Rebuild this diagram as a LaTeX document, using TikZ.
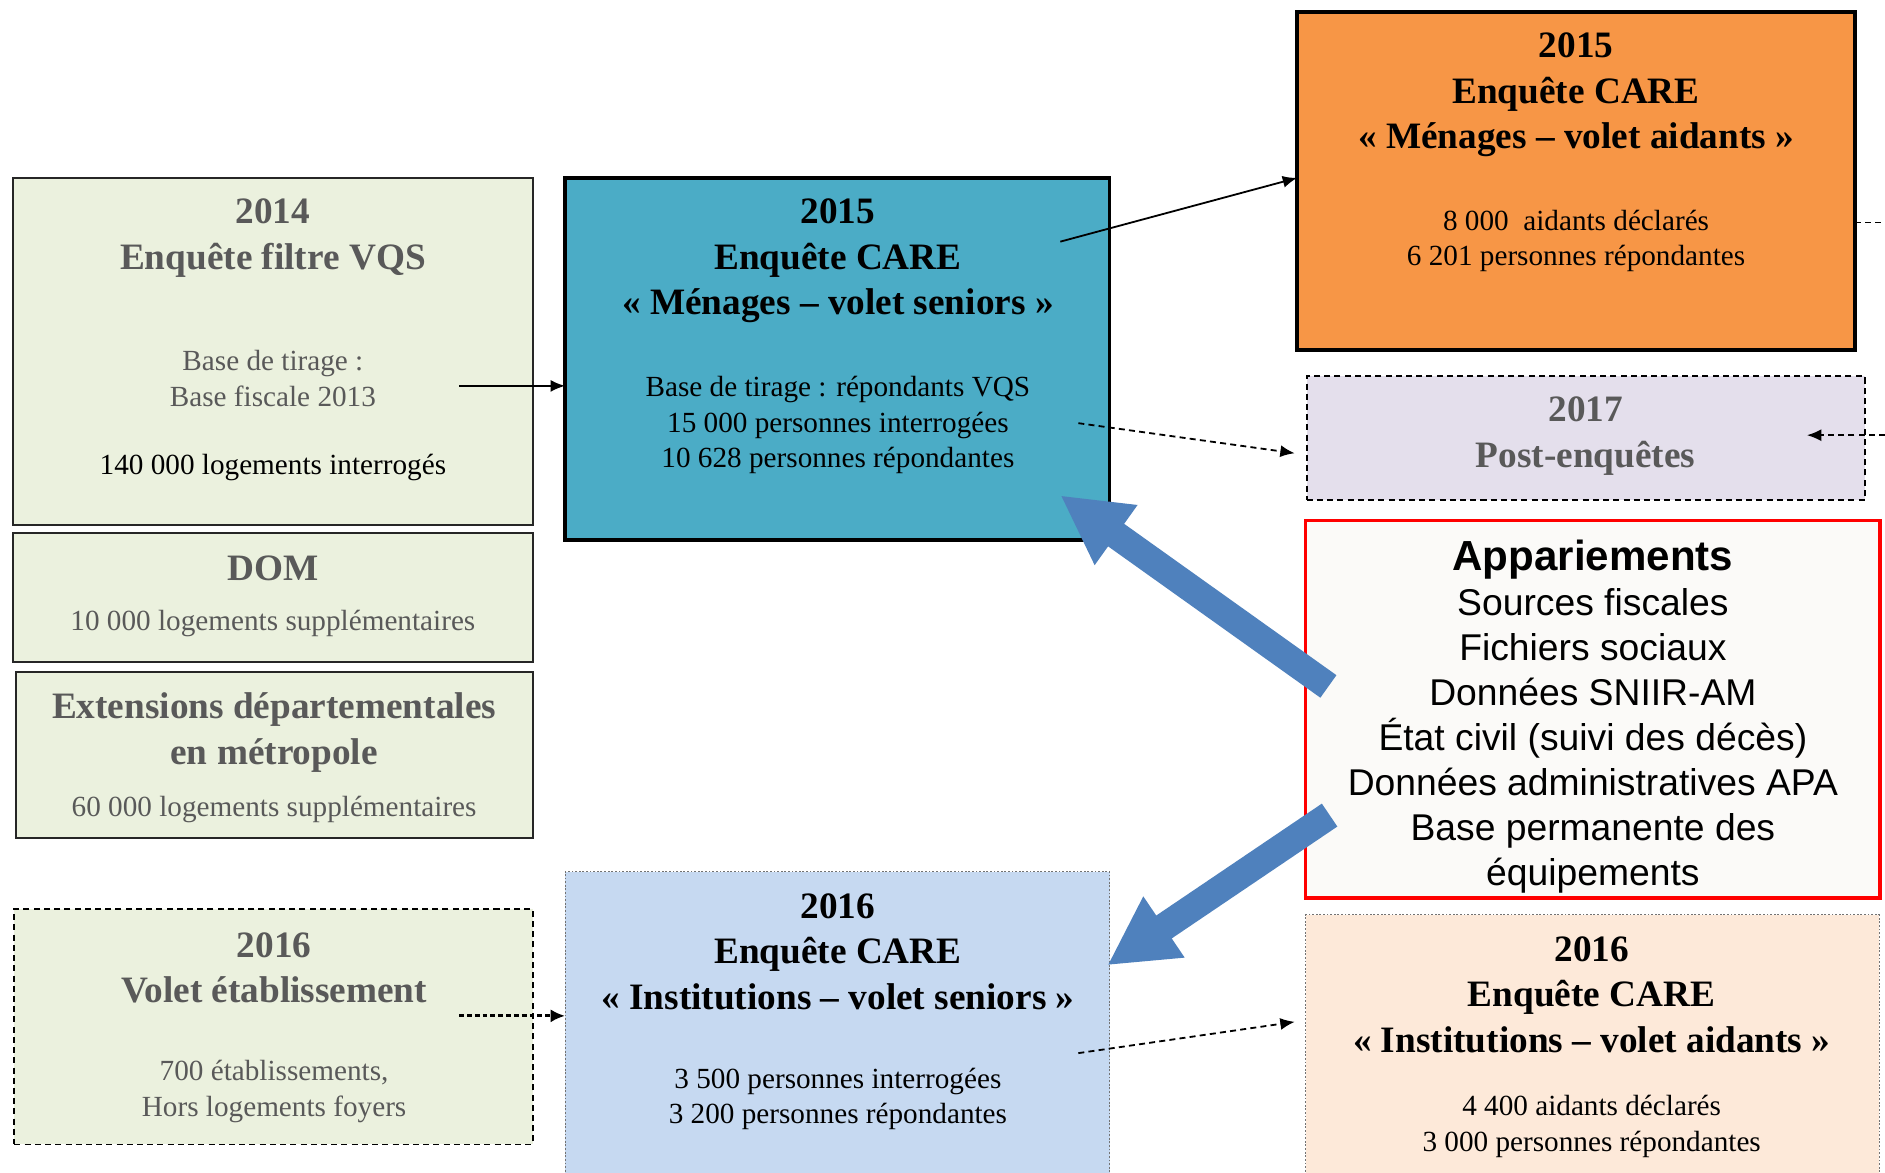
\documentclass[tikz,border=0pt]{standalone}
\usepackage{fontspec}
\setmainfont{Liberation Serif}
\setsansfont{Liberation Sans}
\usetikzlibrary{arrows.meta,calc}
\definecolor{cOrange}{HTML}{F79646}
\definecolor{cTeal}{HTML}{4BACC6}
\definecolor{cGreen}{HTML}{EBF1DE}
\definecolor{cLav}{HTML}{E4DFEC}
\definecolor{cApp}{HTML}{FBFAF8}
\definecolor{cPeach}{HTML}{FDE9D9}
\definecolor{cLBlue}{HTML}{C6D9F1}
\definecolor{cGrayT}{HTML}{595959}
\definecolor{cBig}{HTML}{4F81BD}
\definecolor{cRed}{HTML}{FF0000}
\tikzset{
  box/.style={rectangle, inner sep=0pt, outer sep=0pt},
  thickbox/.style={box, draw=black, line width=3pt},
  greenbox/.style={box, draw=black!85, line width=1.6pt, fill=cGreen},
  dashbox/.style={box, draw=black, line width=1.6pt, dash pattern=on 5pt off 3.5pt},
  dotbox/.style={box, draw=black!55, line width=0.8pt, dash pattern=on 1.5pt off 1.5pt},
  ttl/.style={inner sep=0pt, align=center, font=\fontsize{31}{38}\selectfont\bfseries},
  bdy/.style={inner sep=0pt, align=center, font=\fontsize{24.3}{29.5}\selectfont},
  arr/.style={line width=1.5pt, -{Latex[length=12pt,width=10pt]}},
  darr/.style={line width=1.5pt, dash pattern=on 5pt off 3.5pt, -{Latex[length=12pt,width=10pt]}},
  bigarr/.style={draw=cBig, line width=23pt, -{Triangle[length=57pt,width=57pt]}},
}
\begin{document}
\begin{tikzpicture}[x=1pt,y=-1pt]
\useasboundingbox (0,0) rectangle (1568,975);
\clip (0,0) rectangle (1568,975);
\fill[white] (0,0) rectangle (1568,975);

% left column
\node[greenbox, minimum width=432pt, minimum height=289pt] (vqs) at (227,292.5) {};
\node[greenbox, minimum width=432pt, minimum height=108pt] (dom) at (227,497) {};
\node[greenbox, minimum width=430pt, minimum height=138pt] (ext) at (228,628) {};
\node[dashbox, fill=cGreen, minimum width=431pt, minimum height=196pt] (etab) at (227.5,854) {};

% middle column
\node[thickbox, fill=cTeal, minimum width=453pt, minimum height=301pt] (men) at (696.5,298.5) {};
\node[dotbox, fill=cLBlue, minimum width=453pt, minimum height=265pt] (inst) at (696.5,857.5) {};

% right column
\node[thickbox, fill=cOrange, minimum width=464pt, minimum height=281pt] (aid) at (1311,150.5) {};
\node[dashbox, fill=cLav, minimum width=464pt, minimum height=103pt] (post) at (1319,364.5) {};
\node[box, draw=cRed, line width=3pt, fill=cApp, minimum width=478pt, minimum height=314pt] (app) at (1325,590) {};
\node[dotbox, fill=cPeach, minimum width=477pt, minimum height=229pt] (insta) at (1324.5,875.5) {};

% texts
\node[ttl, text=cGrayT] (vqsT) at (227,198) {2014\\Enquête filtre VQS};
\node[bdy, text=cGrayT] (vqsB) at (227,315) {Base de tirage :\\Base fiscale 2013};
\node[bdy] (vqsC) at (227,389) {140 000 logements interrogés};
\node[ttl, text=cGrayT] (domT) at (227,473) {DOM};
\node[bdy, text=cGrayT] (domB) at (227,519) {10 000 logements supplémentaires};
\node[ttl, text=cGrayT] (extT) at (228,609.5) {Extensions départementales\\en métropole};
\node[bdy, text=cGrayT] (extB) at (228,673) {60 000 logements supplémentaires};
\node[ttl, text=cGrayT] (etabT) at (228,805) {2016\\Volet établissement};
\node[bdy, text=cGrayT] (etabB) at (228,908) {700 établissements,\\Hors logements foyers};

\node[ttl] (menT) at (697,217) {2015\\Enquête CARE\\« Ménages – volet seniors »};
\node[bdy] (menB) at (697,353.5) {Base de tirage : répondants VQS\\15 000 personnes interrogées\\10 628 personnes répondantes};
\node[ttl] (instT) at (697,791.5) {2016\\Enquête CARE\\« Institutions – volet seniors »};
\node[bdy] (instB) at (697,914) {3 500 personnes interrogées\\3 200 personnes répondantes};

\node[ttl] (aidT) at (1311,79) {2015\\Enquête CARE\\« Ménages – volet aidants »};
\node[bdy] (aidB) at (1311,200.5) {8 000~~aidants déclarés\\6 201 personnes répondantes};
\node[ttl, text=cGrayT] (postT) at (1319,363) {2017\\Post-enquêtes};
\node[inner sep=0pt, align=center, font=\fontsize{31}{37.5}\selectfont\sffamily] (appT) at (1325,596)
  {{\fontsize{35}{37.5}\selectfont\bfseries Appariements}\\Sources fiscales\\Fichiers sociaux\\Données SNIIR-AM\\État civil (suivi des décès)\\Données administratives APA\\Base permanente des\\équipements};
\node[ttl] (instaT) at (1324,827.5) {2016\\Enquête CARE\\« Institutions – volet aidants »};
\node[bdy] (instaB) at (1324,937) {4 400 aidants déclarés\\3 000 personnes répondantes};

% connectors
\coordinate (s1) at (382,321);
\draw[arr] (s1) -- (men.west |- s1);
\coordinate (s2) at (882,201);
\draw[arr] (s2) -- ($(aid.north west)+(0,138)$);
\coordinate (s3) at (897,352);
\draw[darr] (s3) -- ($(post.west)+(-10,12.5)$);
\draw[line width=1.5pt, dash pattern=on 5pt off 3.5pt] ($(aid.east)+(0,34.5)$) -- ++(40,0);
\coordinate (pin) at (1568,362);
\draw[darr] (pin) -- ($(post.east)+(-48,-2.5)$);
\coordinate (s4) at (382,845);
\draw[line width=2.5pt, dash pattern=on 4pt off 2.5pt, -{Latex[length=12pt,width=11pt]}] (s4) -- (inst.west |- s4);
\coordinate (s5) at (897,876);
\draw[darr] (s5) -- ($(insta.west)+(-9,-25.5)$);

% big blue arrows
\coordinate (t1) at (1105,571);
\coordinate (h1) at (882,412);
\draw[bigarr] (t1) -- (h1);
\coordinate (t2) at (1106,678);
\coordinate (h2) at (921,803);
\draw[bigarr] (t2) -- (h2);
\end{tikzpicture}
\end{document}
